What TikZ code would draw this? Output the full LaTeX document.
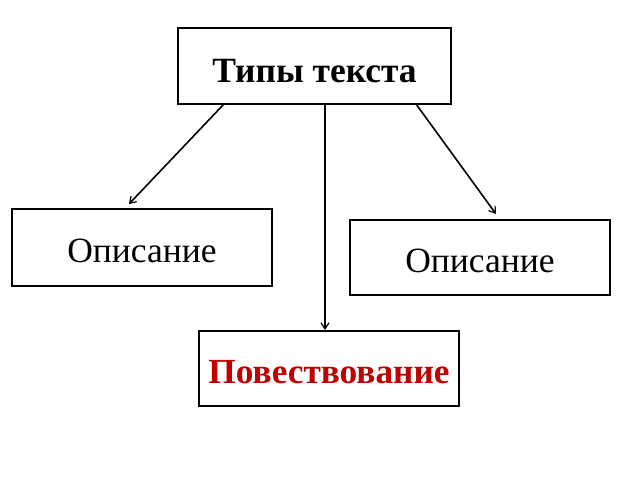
\documentclass[tikz,border=0pt]{standalone}
\usepackage{fontspec}
\setmainfont{Liberation Serif}
\usetikzlibrary{arrows.meta}
\newcommand{\bl}[2]{\raisebox{-#1pt}[0pt][0pt]{#2}}
\begin{document}
\begin{tikzpicture}[x=1pt,y=-1pt,
  box/.style={draw=black,line width=2.2pt,fill=white,minimum width=#1,inner sep=0pt},
  conn/.style={draw=black,line width=1.6pt,-{Straight Barb[length=6pt,width=8pt,line width=1.2pt]}}]
\useasboundingbox (0,0) rectangle (640,480);
\node[box=273pt,minimum height=76pt,font=\fontsize{35.5}{40}\selectfont\bfseries] (top) at (314.5,66) {\bl{16}{Типы текста}};
\node[box=260pt,minimum height=77pt,font=\fontsize{35.5}{40}\selectfont] (left) at (142,247.5) {\bl{14.5}{Описание}};
\node[box=260pt,minimum height=75pt,font=\fontsize{35.5}{40}\selectfont] (right) at (480,257.5) {\bl{14.5}{Описание}};
\node[box=260pt,minimum height=75pt,font=\fontsize{35.3}{40}\selectfont\bfseries,text={rgb,255:red,192;green,0;blue,0}] (bot) at (329,368.5) {\bl{14.5}{Повествование}};
\coordinate (a1) at (224,104);
\coordinate (a2) at (416,104);
\coordinate (a3) at (325,104);
\coordinate (t1) at (129,204);
\coordinate (t2) at (496,214);
\draw[conn] (a1) -- (t1);
\draw[conn] (a2) -- (t2);
\draw[conn] (a3) -- (bot.north -| a3);
\end{tikzpicture}
\end{document}
